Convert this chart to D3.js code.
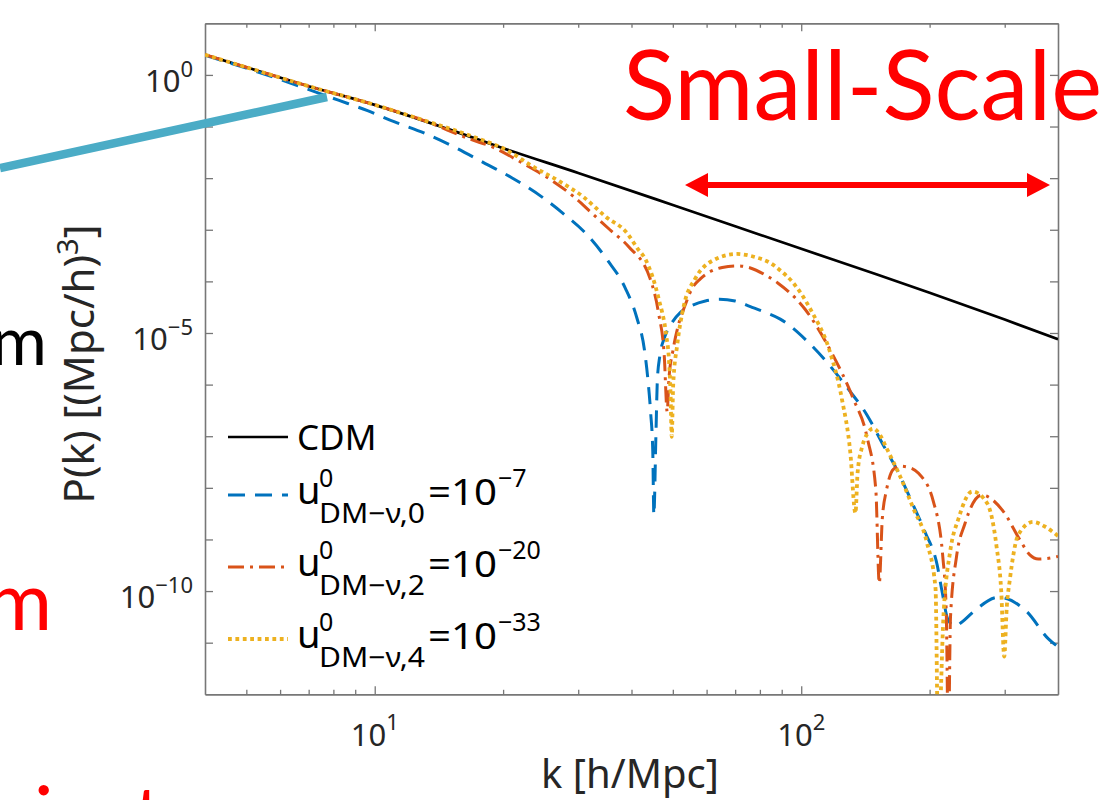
<!DOCTYPE html>
<html><head><meta charset="utf-8">
<script src="https://cdn.jsdelivr.net/npm/d3@7"></script>
<style>
html,body{margin:0;padding:0;background:#fff;}
svg{display:block;}
</style></head><body>
<svg id="chart" width="1115" height="800"></svg>
<script>
// ---------- data ----------
const cdmK = [4,5,7,10,15,20,30,50,70,100,150,200,300,400];
const cdmP = [2.455,1.406,0.605,0.263,8.71e-2,3.80e-2,1.26e-2,3.02e-3,1.17e-3,4.27e-4,1.38e-4,6.03e-5,1.82e-5,7.59e-6];

const blueK = [4,5,6.82,8.22,9.62,11.1,13.2,15.4,18.0,21.0,24.6,27.5,31.5,35.1,38.7,41.2,42.9,43.75,44.36,44.87,45.13,45.63,46.0,46.6,47.75,49.35,52.1,55.0,59.6,64.3,70.0,76.0,82.4,89.3,103.0,114.6,127.9,142.6,155.2,169.0,181.6,195.0,208.4,213.8,220.8,229.6,238.2,253.5,289.7,338.1,379.3,400];
const blueP = [2.40,1.35,0.562,0.324,0.203,0.124,0.0719,0.0397,0.0200,0.0101,4.39e-3,2.15e-3,7.94e-4,2.60e-4,7.35e-5,1.93e-5,4.68e-6,1.15e-6,2.85e-7,5.0e-8,2.95e-9,1.0e-7,1.26e-6,3.55e-6,7.94e-6,1.41e-5,2.51e-5,3.31e-5,4.17e-5,4.50e-5,4.17e-5,3.24e-5,2.51e-5,1.86e-5,7.10e-6,2.78e-6,8.91e-7,2.58e-7,7.08e-8,1.96e-8,5.37e-9,1.41e-9,3.16e-10,1.0e-10,2.82e-11,2.09e-11,2.51e-11,3.98e-11,7.59e-11,3.98e-11,1.20e-11,8.32e-12];

const orangeK = [4,5,7,10,13,16.8,18.8,22.1,25.9,29.3,32.3,35.6,39.4,44.2,46.3,47.75,48.5,48.95,50.06,51.5,53.5,55.5,58.0,61.2,65.3,70.6,76.0,82.4,88.1,102.1,118.0,132.4,142.6,149.6,152.4,154.9,158.5,164.4,170.6,178.2,188.4,204.2,214.8,218.8,221.3,223.9,231.2,242.1,264.8,297.9,325.8,343.6,359.7,376.7,400];
const orangeP = [2.455,1.406,0.605,0.263,0.132,0.0562,0.0407,0.0200,9.23e-3,4.37e-3,2.09e-3,1.0e-3,4.68e-4,1.15e-4,2.40e-5,3.47e-6,2.99e-7,1.26e-6,4.68e-6,1.41e-5,3.55e-5,7.35e-5,1.12e-4,1.55e-4,1.86e-4,2.0e-4,1.82e-4,1.33e-4,9.33e-5,2.88e-5,4.07e-6,5.37e-7,9.77e-8,9.12e-9,1.41e-10,2.51e-9,9.12e-9,2.29e-8,2.63e-8,2.51e-8,1.91e-8,5.37e-9,4.57e-10,3.98e-11,1e-13,3.16e-11,4.57e-10,2.04e-9,7.24e-9,3.47e-9,9.77e-10,5.01e-10,4.17e-10,4.27e-10,4.68e-10];

const yellowK = [4,5,7,10,13,17.3,20.3,23.5,27.2,30.8,34.8,39.1,41.3,43.2,46.3,48.3,48.95,49.4,49.7,50.1,51.2,53.0,56.5,62.4,70.6,78.0,84.5,89.7,95.1,105.9,116.4,124.5,130.3,134.0,135.6,139.0,142.9,147.6,153.1,158.5,170.6,183.2,196.8,206.5,209.4,215.8,223.4,233.9,251.8,272.9,287.1,294.4,299.2,303.4,308.3,322.8,349.9,372.4,400];
const yellowP = [2.455,1.406,0.605,0.263,0.133,0.0603,0.0355,0.0167,8.55e-3,4.37e-3,1.79e-3,8.51e-4,4.37e-4,2.60e-4,4.68e-5,8.51e-6,3.16e-6,6.31e-7,9.77e-8,1.0e-6,5.89e-6,3.24e-5,1.15e-4,2.60e-4,3.40e-4,2.95e-4,2.29e-4,1.58e-4,1.0e-4,2.57e-5,4.68e-6,5.37e-7,5.01e-8,3.24e-9,2.0e-8,6.31e-8,1.12e-7,1.41e-7,1.05e-7,5.89e-8,1.66e-8,3.98e-9,9.12e-10,1.12e-10,1e-13,3.98e-11,5.75e-10,2.57e-9,8.51e-9,5.01e-9,7.24e-10,1.0e-10,5.37e-12,5.01e-11,1.62e-10,1.23e-9,2.19e-9,1.78e-9,1.17e-9];

const xMajorTicks = [10, 100];
const xMinorTicks = [5,6,7,8,9,20,30,40,50,60,70,80,90,200,300];
const yTicks = [1e-11,1e-10,1e-9,1e-8,1e-7,1e-6,1e-5,1e-4,1e-3,1e-2,1e-1,1];
const xTickLabels = [[10,"1"],[100,"2"]];
const yTickLabels = [[1,"0"],[1e-5,"\u22125"],[1e-10,"\u221210"]];
const legendSubs = ["DM\u2212\u03bd,0","DM\u2212\u03bd,2","DM\u2212\u03bd,4"];
const legendExps = ["\u22127","\u221220","\u221233"];

// ---------- layout ----------
const svg = d3.select("#chart");
svg.append("rect").attr("width",1115).attr("height",800).attr("fill","#fff");
const L = 205, R = 1058, T = 23.3, B = 694.3;
const x = d3.scaleLog().domain([4, 400]).range([L, R]);
const y = d3.scaleLog().domain([1e-12, 10]).range([B, T]);
const axisColor = "#777", textColor = "#262626";
const tickFont = "'Noto Sans', 'DejaVu Sans', sans-serif";

svg.append("clipPath").attr("id","plotclip").append("rect")
  .attr("x",L).attr("y",T).attr("width",R-L).attr("height",B-T);

// axes (box with inward ticks)
function styleAxis(g){
  g.selectAll("path.domain").attr("stroke",axisColor).attr("stroke-width",1.6);
  g.selectAll(".tick line").attr("stroke",axisColor).attr("stroke-width",1.3);
  g.selectAll(".tick text").remove();
}
const axes = [
  [d3.axisBottom(x).tickValues(xMajorTicks).tickSizeInner(-8), `translate(0,${B})`],
  [d3.axisBottom(x).tickValues(xMinorTicks).tickSizeInner(-4.5), `translate(0,${B})`],
  [d3.axisTop(x).tickValues(xMajorTicks).tickSizeInner(-8), `translate(0,${T})`],
  [d3.axisTop(x).tickValues(xMinorTicks).tickSizeInner(-4.5), `translate(0,${T})`],
  [d3.axisLeft(y).tickValues(yTicks).tickSizeInner(-8), `translate(${L},0)`],
  [d3.axisRight(y).tickValues(yTicks).tickSizeInner(-8), `translate(${R},0)`]
];
axes.forEach(([ax, tr]) => {
  svg.append("g").attr("transform", tr).call(ax.tickSizeOuter(0).tickFormat("")).call(styleAxis);
});

// tick labels
xTickLabels.forEach(([v, e]) => {
  const t = svg.append("text").attr("x", x(v)).attr("y", 745.5)
    .attr("text-anchor","middle").attr("font-family",tickFont)
    .attr("font-size",31).attr("fill",textColor);
  t.append("tspan").text("10");
  t.append("tspan").attr("dy",-16).attr("font-size",22).text(e);
});
yTickLabels.forEach(([v, e]) => {
  const t = svg.append("text").attr("x", 193).attr("y", y(v) + 17)
    .attr("text-anchor","end").attr("font-family",tickFont)
    .attr("font-size",31).attr("fill",textColor);
  t.append("tspan").text("10");
  t.append("tspan").attr("dy",-15).attr("font-size",22).text(e);
});

// axis titles
svg.append("text").attr("x",630).attr("y",788).attr("text-anchor","middle")
  .attr("font-family",tickFont).attr("font-size",40).attr("fill",textColor)
  .text("k [h/Mpc]");
const yl = svg.append("text").attr("transform","translate(94,364) rotate(-90)")
  .attr("text-anchor","middle").attr("font-family",tickFont)
  .attr("font-size",42).attr("fill",textColor);
yl.append("tspan").text("P(k) [(Mpc/h)");
yl.append("tspan").attr("dy",-16).attr("font-size",29).text("3");
yl.append("tspan").attr("dy",16).text("]");

// ---------- series ----------
const series = [
  {k: cdmK, p: cdmP, color:"#000000", width:2.7, dash:null},
  {k: blueK, p: blueP, color:"#0072BD", width:3, dash:"17,10"},
  {k: orangeK, p: orangeP, color:"#D95319", width:3, dash:"16,6,3,6"},
  {k: yellowK, p: yellowP, color:"#EDB120", width:3.8, dash:"3.8,3.6"}
];
const line = d3.line().x(d => x(d[0])).y(d => y(d[1])).curve(d3.curveMonotoneX);
const plotG = svg.append("g").attr("clip-path","url(#plotclip)");
series.forEach(s => {
  plotG.append("path").datum(d3.zip(s.k, s.p))
    .attr("d", line).attr("fill","none")
    .attr("stroke", s.color).attr("stroke-width", s.width)
    .attr("stroke-dasharray", s.dash);
});

// ---------- legend ----------
const legY = [437, 495, 567, 639];
const legFont = "'Noto Sans', 'DejaVu Sans', sans-serif";
series.forEach((s, i) => {
  svg.append("line").attr("x1",228).attr("x2",288).attr("y1",legY[i]).attr("y2",legY[i])
    .attr("stroke",s.color).attr("stroke-width",s.width).attr("stroke-dasharray",s.dash);
});
svg.append("text").attr("x",297).attr("y",legY[0]+13).attr("font-family",legFont)
  .attr("font-size",35).attr("fill","#000").text("CDM");
legendSubs.forEach((sub, i) => {
  const Ly = legY[i+1];
  const g = svg.append("g").attr("font-family",legFont).attr("fill","#000");
  g.append("text").attr("x",297).attr("y",Ly+9).attr("font-size",38).text("u");
  g.append("text").attr("x",319).attr("y",Ly-8).attr("font-size",25).text("0");
  g.append("text").attr("x",319).attr("y",Ly+28).attr("font-size",27)
    .attr("textLength",106).attr("lengthAdjust","spacingAndGlyphs").text(sub);
  g.append("text").attr("x",428).attr("y",Ly+10).attr("font-size",37)
    .attr("textLength",69).attr("lengthAdjust","spacingAndGlyphs").text("=10");
  g.append("text").attr("x",498).attr("y",Ly-8).attr("font-size",25).text(legendExps[i]);
});

// ---------- slide overlays ----------
svg.append("line").attr("x1",0).attr("y1",168).attr("x2",327).attr("y2",97)
  .attr("stroke","#4BACC6").attr("stroke-width",8.5);
svg.append("text").attr("x",623).attr("y",120).attr("font-family","Lato, 'Open Sans', sans-serif")
  .attr("font-size",97).attr("fill","#FF0000").attr("textLength",479)
  .attr("lengthAdjust","spacingAndGlyphs").text("Small-Scale");
// double arrow
const ax1 = 685, ax2 = 1050, ay = 185, hl = 23, hw = 12, sw = 3;
svg.append("path").attr("fill","#FF0000").attr("d",
  `M${ax1},${ay} L${ax1+hl},${ay-hw} L${ax1+hl},${ay-sw} L${ax2-hl},${ay-sw} L${ax2-hl},${ay-hw} L${ax2},${ay} L${ax2-hl},${ay+hw} L${ax2-hl},${ay+sw} L${ax1+hl},${ay+sw} L${ax1+hl},${ay+hw} Z`);
svg.append("text").attr("x",47).attr("y",365).attr("text-anchor","end")
  .attr("font-family","Lato, sans-serif").attr("font-size",68).attr("fill","#000").text("m");
svg.append("text").attr("x",52).attr("y",630).attr("text-anchor","end")
  .attr("font-family","Lato, sans-serif").attr("font-size",81).attr("fill","#FF0000").text("m");
svg.append("text").attr("x",34).attr("y",845)
  .attr("font-family","Lato, sans-serif").attr("font-size",81).attr("fill","#FF0000").text("inst");
</script>
</body></html>
